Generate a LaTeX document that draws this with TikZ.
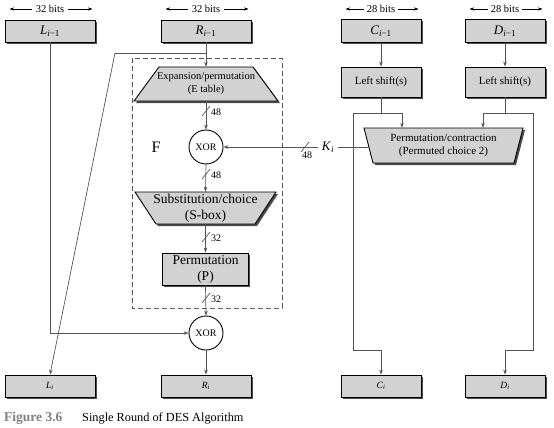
\documentclass[tikz,border=0pt]{standalone}
\usepackage{fontspec}
\setmainfont{Liberation Serif}
\usetikzlibrary{arrows.meta,shadows}
\definecolor{boxgray}{RGB}{210,210,210}
\definecolor{linegray}{RGB}{85,85,85}
\begin{document}
\begin{tikzpicture}[x=1pt,y=-1pt,
  box/.style={draw=black, line width=0.9pt, fill=boxgray, inner sep=0pt,
    drop shadow={shadow xshift=1.8pt,shadow yshift=-1.8pt,fill=black!70,opacity=1}},
  conn/.style={draw=linegray, line width=0.7pt},
  arr/.style={conn,-{Stealth[length=5pt,width=3.6pt]}},
  xor/.style={circle, draw=black, line width=0.9pt, fill=white, minimum size=34pt, inner sep=0pt, font=\fontsize{10}{11}\selectfont},
  trap/.style={draw=black, line width=0.9pt, fill=boxgray},
  trapshadow/.style={fill=black!70},
  ttext/.style={inner sep=0pt, align=center},
  bits/.style={fill=white, inner sep=4pt, font=\fontsize{10.5}{11}\selectfont},
  bitarrow/.style={draw=black, line width=0.5pt, shorten <=5pt, shorten >=3pt, {Stealth[length=4.5pt,width=3.2pt]}-{Stealth[length=4.5pt,width=3.2pt]}},
  numlbl/.style={inner sep=0pt, font=\fontsize{10}{11}\selectfont},
  big/.style={font=\fontsize{13}{14}\selectfont},
  small/.style={font=\fontsize{9.5}{11}\selectfont},
]
\useasboundingbox (0,0) rectangle (554,428);

% top boxes
\node[box, big, minimum width=90pt, minimum height=22pt] (Lm) at (50,31) {\textit{L}\textsubscript{\textit{i}−1}};
\node[box, big, minimum width=90pt, minimum height=22pt] (Rm) at (206,31) {\textit{R}\textsubscript{\textit{i}−1}};
\node[box, big, minimum width=80pt, minimum height=23pt] (Cm) at (381,31) {\textit{C}\textsubscript{\textit{i}−1}};
\node[box, big, minimum width=80pt, minimum height=23pt] (Dm) at (505,31) {\textit{D}\textsubscript{\textit{i}−1}};

% bit widths
\draw[bitarrow] (Lm.west |- 0,9) -- (Lm.east |- 0,9);
\node[bits] (bL) at (Lm.north |- 0,9) {32 bits};
\draw[bitarrow] (Rm.west |- 0,9) -- (Rm.east |- 0,9);
\node[bits] (bR) at (Rm.north |- 0,9) {32 bits};
\draw[bitarrow] (Cm.west |- 0,9) -- (Cm.east |- 0,9);
\node[bits, inner sep=2.5pt] (bC) at (Cm.north |- 0,9) {28 bits};
\draw[bitarrow] (Dm.west |- 0,9) -- (Dm.east |- 0,9);
\node[bits, inner sep=2.5pt] (bD) at (Dm.north |- 0,9) {28 bits};

% left shifts
\node[box, font=\fontsize{11}{13}\selectfont, minimum width=80pt, minimum height=30pt] (LSc) at (381,82) {Left shift(s)};
\node[box, font=\fontsize{11}{13}\selectfont, minimum width=80pt, minimum height=30pt] (LSd) at (505,82) {Left shift(s)};

% F dashed box
\draw[conn, dash pattern=on 5pt off 3pt] (132,58) rectangle (282,308);
\node[font=\fontsize{16}{18}\selectfont, inner sep=0pt] (F) at (156,147) {F};

% expansion
\fill[trapshadow] (161,69) -- (255,69) -- (280,103) -- (136,103) -- cycle;
\draw[trap] (159,67) -- (253,67) -- (278,101) -- (134,101) -- cycle;
\node[ttext, font=\fontsize{10.5}{13}\selectfont, minimum width=100pt, minimum height=34pt] (EP) at (206,84) {Expansion/permutation\\(E table)};

% substitution
\fill[trapshadow] (137,194) -- (278,194) -- (257,226) -- (158,226) -- cycle;
\draw[trap] (135,192) -- (276,192) -- (255,224) -- (156,224) -- cycle;
\node[ttext, font=\fontsize{13.5}{16}\selectfont, minimum width=100pt, minimum height=32pt] (SB) at (205.5,208) {Substitution/choice\\(S-box)};

% permutation P
\node[box, ttext, font=\fontsize{13.5}{16}\selectfont, minimum width=86pt, minimum height=32pt] (P) at (205.5,269) {Permutation\\(P)};

% permuted choice 2
\fill[trapshadow] (366,130) -- (525,130) -- (516,165) -- (375,165) -- cycle;
\draw[trap] (364,128) -- (523,128) -- (514,163) -- (373,163) -- cycle;
\node[ttext, font=\fontsize{11}{13.5}\selectfont, minimum width=150pt, minimum height=35pt] (PC) at (443.5,145.5) {Permutation/contraction\\(Permuted choice 2)};

% XORs
\node[xor] (X1) at (206,147) {XOR};
\node[xor] (X2) at (206,333) {XOR};

% bottom boxes
\node[box, small, minimum width=90pt, minimum height=22pt] (Li) at (50,386) {\textit{L}\textsubscript{\textit{i}}};
\node[box, small, minimum width=90pt, minimum height=22pt] (Ri) at (206,386) {\textit{R}\textsubscript{\textit{i}}};
\node[box, small, minimum width=80pt, minimum height=22pt] (Ci) at (381,386) {\textit{C}\textsubscript{\textit{i}}};
\node[box, small, minimum width=80pt, minimum height=22pt] (Di) at (505,386) {\textit{D}\textsubscript{\textit{i}}};

% R path
\coordinate (rs) at (Rm.south |- 0,53);
\coordinate (rb) at (115,53);
\draw[arr] (Rm.south) -- (EP.north);
\draw[conn] (rs) -- (rb);
\draw[arr] (rb) -- (Li.north);

% F internals
\draw[arr] (EP.south) -- (X1.north);
\draw[conn] (202,116) -- (210,106);
\node[numlbl, anchor=west] (n1) at (211,112) {48};
\draw[arr] (X1.south) -- (SB.north);
\draw[conn] (202,179) -- (210,169);
\node[numlbl, anchor=west] (n2) at (211,175) {48};
\draw[arr] (SB.south) -- (P.north);
\draw[conn] (202,242) -- (210,232);
\node[numlbl, anchor=west] (n3) at (211,238) {32};
\draw[arr] (P.south) -- (X2.north);
\draw[conn] (202,303) -- (210,293);
\node[numlbl, anchor=west] (n4) at (211,299) {32};

% L path
\draw[arr] (Lm.south) |- (X2.west);
\draw[arr] (X2.south) -- (Ri.north);

% C / D paths
\draw[arr] (Cm.south) -- (LSc.north);
\draw[arr] (Dm.south) -- (LSd.north);
\coordinate (cs) at (LSc.south |- 0,113);
\coordinate (cl) at (353,113);
\coordinate (cr) at (402,113);
\coordinate (cb) at (Ci.north |- 0,350);
\draw[conn] (LSc.south) -- (cs);
\draw[conn] (cl) -- (cr);
\draw[arr] (cr) -- (cr |- PC.north);
\draw[arr] (cl) |- (cb) -- (Ci.north);
\coordinate (ds) at (LSd.south |- 0,113);
\coordinate (dl) at (483,113);
\coordinate (dr) at (533,113);
\coordinate (db) at (Di.north |- 0,350);
\draw[conn] (LSd.south) -- (ds);
\draw[conn] (dl) -- (dr);
\draw[arr] (dl) -- (dl |- PC.north);
\draw[arr] (dr) |- (db) -- (Di.north);

% K_i
\node[big, inner sep=4pt] (Ki) at (328,147) {\textit{K}\textsubscript{\textit{i}}};
\draw[conn] (Ki.east) -- (Ki.east -| 369,0);
\draw[arr] (Ki.west) -- (X1.east);
\draw[conn] (301,152) -- (309,142);
\node[numlbl] (n5) at (307,155) {48};

% caption
\node[anchor=west, inner sep=0pt, text=black!50, font=\bfseries\fontsize{13.5}{14}\selectfont] (fig) at (4,418) {Figure 3.6};
\node[anchor=west, inner sep=0pt, font=\fontsize{12.3}{13}\selectfont] (cap) at (82,418) {Single Round of DES Algorithm};
\end{tikzpicture}
\end{document}
